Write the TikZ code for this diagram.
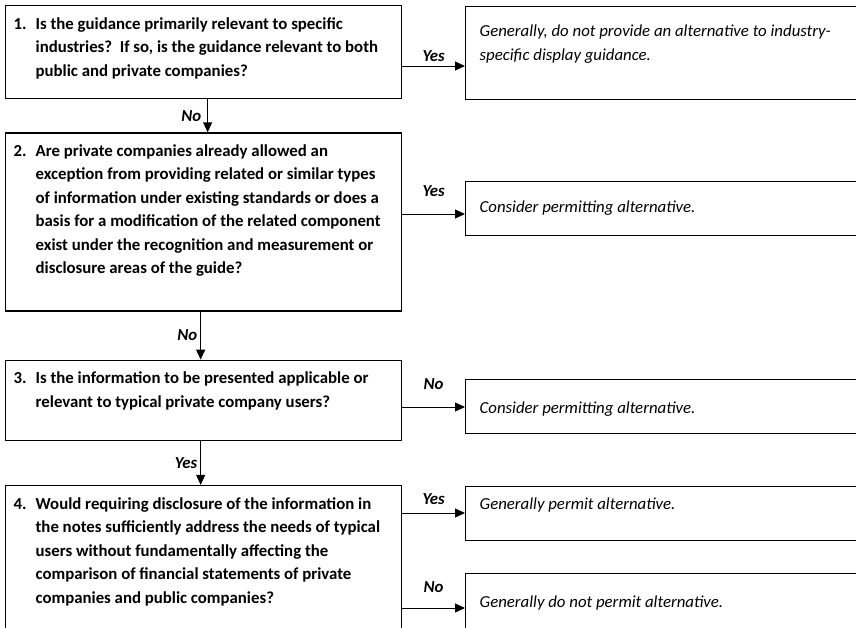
\documentclass[tikz,border=0pt]{standalone}
\usepackage{fontspec}
\setmainfont{Carlito}
\usetikzlibrary{arrows.meta, positioning}
\newcommand{\qtext}[3]{\parbox[c][#1][t]{380pt}{\vspace*{7pt}\hangindent=22pt\hangafter=1\makebox[22pt][l]{\strut#2.}#3}}
\newcommand{\atext}[3]{\parbox[c][#1][t]{380pt}{\vspace*{#2}\strut #3}}

\begin{document}
\begin{tikzpicture}[x=1pt, y=-1pt,
    qbox/.style={draw, line width=1.3pt, inner sep=0pt, inner xsep=8pt, anchor=north west, font=\fontsize{16.8}{23.5}\selectfont\bfseries},
    abox/.style={draw, line width=1.3pt, inner sep=0pt, inner xsep=14pt, anchor=north west, font=\fontsize{16.8}{24}\selectfont\itshape},
    lbl/.style={font=\fontsize{16.8}{18}\selectfont\bfseries\itshape, inner sep=2pt},
    arr/.style={-{Triangle[length=10pt, width=9pt]}, line width=1pt}]
  \useasboundingbox (0,0) rectangle (856,627);
  \fill[white] (0,0) rectangle (856,627);
  \clip (0,0) rectangle (856,627);
  % questions
  \node[qbox] (q1) at (5,5) {\qtext{93pt}{1}{Is the guidance primarily relevant to specific\newline industries?\ \ If so, is the guidance relevant to both\newline public and private companies?}};
  \node[qbox, below=33pt of q1.south west, anchor=north west] (q2) {\qtext{178pt}{2}{Are private companies already allowed an\newline exception from providing related or similar types\newline of information under existing standards or does a\newline basis for a modification of the related component\newline exist under the recognition and measurement or\newline disclosure areas of the guide?}};
  \node[qbox, below=48pt of q2.south west, anchor=north west] (q3) {\qtext{80pt}{3}{Is the information to be presented applicable or\newline relevant to typical private company users?}};
  \node[qbox, below=44pt of q3.south west, anchor=north west] (q4) {\qtext{160pt}{4}{Would requiring disclosure of the information in\newline the notes sufficiently address the needs of typical\newline users without fundamentally affecting the\newline comparison of financial statements of private\newline companies and public companies?}};
  % answers
  \node[abox] (a1) at (465,6) {\atext{93pt}{13.5pt}{Generally, do not provide an alternative to industry-\newline specific display guidance.}};
  \node[abox] (a2) at (465,181) {\atext{54pt}{14.5pt}{Consider permitting alternative.}};
  \node[abox] (a3) at (465,379) {\atext{54pt}{17.5pt}{Consider permitting alternative.}};
  \node[abox] (a4) at (465,486) {\atext{54pt}{6.5pt}{Generally permit alternative.}};
  \node[abox] (a5) at (465,573) {\atext{80pt}{17.5pt}{Generally do not permit alternative.}};
  \coordinate (y1) at ([yshift=-60pt]a1.north west);
  \coordinate (y2) at ([yshift=-33pt]a2.north west);
  \coordinate (y3) at ([yshift=-28pt]a3.north west);
  \coordinate (y4) at ([yshift=-27pt]a4.north west);
  \coordinate (y5) at ([yshift=-35pt]a5.north west);
  % down the chain
  \draw[arr] ([xshift=4pt]q1.south) -- node[lbl, left=4pt]{No} ([xshift=4pt]q2.north);
  \draw[arr] ([xshift=-3pt]q2.south) -- node[lbl, left=1pt]{No} ([xshift=-3pt]q3.north);
  \draw[arr] ([xshift=-3pt]q3.south) -- node[lbl, left=1pt]{Yes} ([xshift=-3pt]q4.north);
  % across
  \draw[arr] (q1.east |- y1) -- node[lbl, above=2pt]{Yes} (y1);
  \draw[arr] (q2.east |- y2) -- node[lbl, above=15pt]{Yes} (y2);
  \draw[arr] (q3.east |- y3) -- node[lbl, above=15pt]{No} (y3);
  \draw[arr] (q4.east |- y4) -- node[lbl, above=6pt]{Yes} (y4);
  \draw[arr] (q4.east |- y5) -- node[lbl, above=13pt]{No} (y5);
\end{tikzpicture}
\end{document}
